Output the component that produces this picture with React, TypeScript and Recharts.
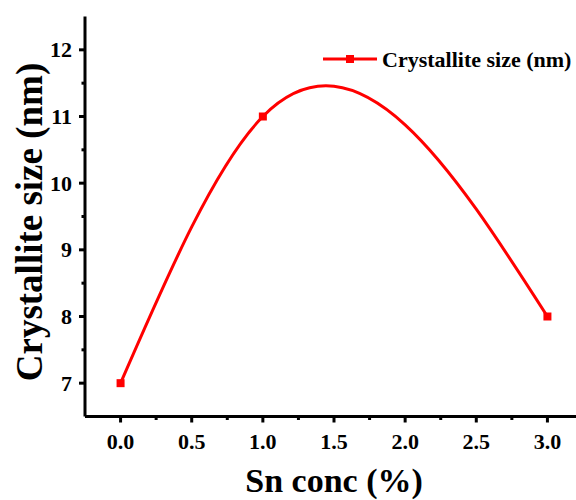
import React from 'react';
import { LineChart, Line, XAxis, YAxis, Legend, Label } from 'recharts';

const snConc = [0, 1, 3];
const crystalliteSize = [7, 11, 8];
const xMajorTicks = [0, 0.5, 1, 1.5, 2, 2.5, 3];
const xMinorTicks = [0.25, 0.75, 1.25, 1.75, 2.25, 2.75];
const yMajorTicks = [7, 8, 9, 10, 11, 12];
const yMinorTicks = [7.5, 8.5, 9.5, 10.5, 11.5];

const data = snConc.map((x, i) => ({ x, size: crystalliteSize[i] }));

const RED = '#ff0000';
const FONT = '"Liberation Serif", "Times New Roman", serif';

// natural cubic spline y(x), like Origin's spline connector
const naturalSplineX = (context: any) => {
  let xs: number[] = [];
  let ys: number[] = [];
  return {
    areaStart() {},
    areaEnd() {},
    lineStart() {
      xs = [];
      ys = [];
    },
    point(x: number, y: number) {
      xs.push(+x);
      ys.push(+y);
    },
    lineEnd() {
      const n = xs.length;
      if (!n) return;
      context.moveTo(xs[0], ys[0]);
      if (n < 3) {
        if (n === 2) context.lineTo(xs[1], ys[1]);
        return;
      }
      const h: number[] = [];
      const s: number[] = [];
      for (let i = 0; i < n - 1; i++) {
        h.push(xs[i + 1] - xs[i]);
        s.push((ys[i + 1] - ys[i]) / h[i]);
      }
      // tridiagonal solve for second derivatives, M0 = Mn-1 = 0
      const M = new Array(n).fill(0);
      const a: number[] = [], b: number[] = [], c: number[] = [], r: number[] = [];
      for (let i = 1; i < n - 1; i++) {
        a.push(h[i - 1]);
        b.push(2 * (h[i - 1] + h[i]));
        c.push(h[i]);
        r.push(6 * (s[i] - s[i - 1]));
      }
      const m = b.length;
      for (let i = 1; i < m; i++) {
        const w = a[i] / b[i - 1];
        b[i] -= w * c[i - 1];
        r[i] -= w * r[i - 1];
      }
      const sol = new Array(m).fill(0);
      sol[m - 1] = r[m - 1] / b[m - 1];
      for (let i = m - 2; i >= 0; i--) sol[i] = (r[i] - c[i] * sol[i + 1]) / b[i];
      for (let i = 0; i < m; i++) M[i + 1] = sol[i];
      for (let i = 0; i < n - 1; i++) {
        const hi = h[i];
        const d0 = s[i] - (hi * (2 * M[i] + M[i + 1])) / 6;
        const d1 = s[i] + (hi * (M[i] + 2 * M[i + 1])) / 6;
        context.bezierCurveTo(
          xs[i] + hi / 3, ys[i] + (d0 * hi) / 3,
          xs[i + 1] - hi / 3, ys[i + 1] - (d1 * hi) / 3,
          xs[i + 1], ys[i + 1]
        );
      }
    },
  };
};

const XTick = (props: any) => {
  const { x, y, payload } = props;
  const major = xMajorTicks.includes(payload.value);
  return (
    <g>
      <line x1={x} y1={y} x2={x} y2={y + (major ? 6 : 3.5)} stroke="#000" strokeWidth={3} />
      {major && (
        <text x={x} y={y + 32} textAnchor="middle" fontFamily={FONT} fontWeight="bold" fontSize={22} fill="#000">
          {payload.value.toFixed(1)}
        </text>
      )}
    </g>
  );
};

const YTick = (props: any) => {
  const { x, y, payload } = props;
  const major = yMajorTicks.includes(payload.value);
  return (
    <g>
      <line x1={x} y1={y} x2={x - (major ? 6 : 3.5)} y2={y} stroke="#000" strokeWidth={3} />
      {major && (
        <text x={x - 13} y={y + 7.5} textAnchor="end" fontFamily={FONT} fontWeight="bold" fontSize={22} fill="#000">
          {payload.value}
        </text>
      )}
    </g>
  );
};

const SquareDot = (props: any) => {
  const { cx, cy, index } = props;
  return <rect key={`dot-${index}`} x={cx - 4} y={cy - 4} width={8} height={8} fill={RED} />;
};

const LegendContent = () => (
  <svg width={260} height={30}>
    <line x1={3} y1={15} x2={57} y2={15} stroke={RED} strokeWidth={3} />
    <rect x={26} y={11} width={8} height={8} fill={RED} />
    <text x={62} y={22.5} fontFamily={FONT} fontWeight="bold" fontSize={22} fill="#000">
      Crystallite size (nm)
    </text>
  </svg>
);

export default function App() {
  return (
    <div style={{ position: 'absolute', left: 0, top: 0, width: 576, height: 500, overflow: 'hidden', background: '#fff' }}>
      <LineChart width={600} height={500} data={data} margin={{ top: 16.5, right: 17, left: 0, bottom: 0 }}>
        <XAxis
          dataKey="x"
          type="number"
          domain={[-0.25, 3.25]}
          ticks={[...xMajorTicks, ...xMinorTicks].sort((p, q) => p - q)}
          interval={0}
          height={83.5}
          tickSize={0}
          tickMargin={0}
          tickLine={false}
          tick={<XTick />}
          axisLine={{ stroke: '#000', strokeWidth: 3 }}
        >
          <Label
            content={({ viewBox }: any) => (
              <text
                x={viewBox.x + viewBox.width / 2}
                y={viewBox.y + 75}
                textAnchor="middle"
                fontFamily={FONT}
                fontWeight="bold"
                fontSize={34}
                fill="#000"
              >
                Sn conc (%)
              </text>
            )}
          />
        </XAxis>
        <XAxis
          xAxisId="top"
          orientation="top"
          type="number"
          domain={[-0.25, 3.25]}
          height={0}
          tick={false}
          tickLine={false}
          axisLine={{ stroke: '#000', strokeWidth: 3 }}
        />
        <YAxis
          type="number"
          domain={[6.5, 12.5]}
          ticks={[...yMajorTicks, ...yMinorTicks].sort((p, q) => p - q)}
          interval={0}
          width={85}
          tickSize={0}
          tickMargin={0}
          tickLine={false}
          tick={<YTick />}
          axisLine={{ stroke: '#000', strokeWidth: 3 }}
        >
          <Label
            content={() => (
              <text
                x={42}
                y={222}
                transform="rotate(-90 42 222)"
                textAnchor="middle"
                fontFamily={FONT}
                fontWeight="bold"
                fontSize={37}
                fill="#000"
              >
                Crystallite size (nm)
              </text>
            )}
          />
        </YAxis>
        <Legend
          layout="horizontal"
          verticalAlign="middle"
          align="center"
          content={<LegendContent />}
          wrapperStyle={{ top: 44, left: 320, width: 260, height: 30 }}
        />
        <Line
          dataKey="size"
          type={naturalSplineX as any}
          stroke={RED}
          strokeWidth={3}
          dot={<SquareDot />}
          activeDot={false}
          isAnimationActive={false}
          name="Crystallite size (nm)"
        />
      </LineChart>
    </div>
  );
}
